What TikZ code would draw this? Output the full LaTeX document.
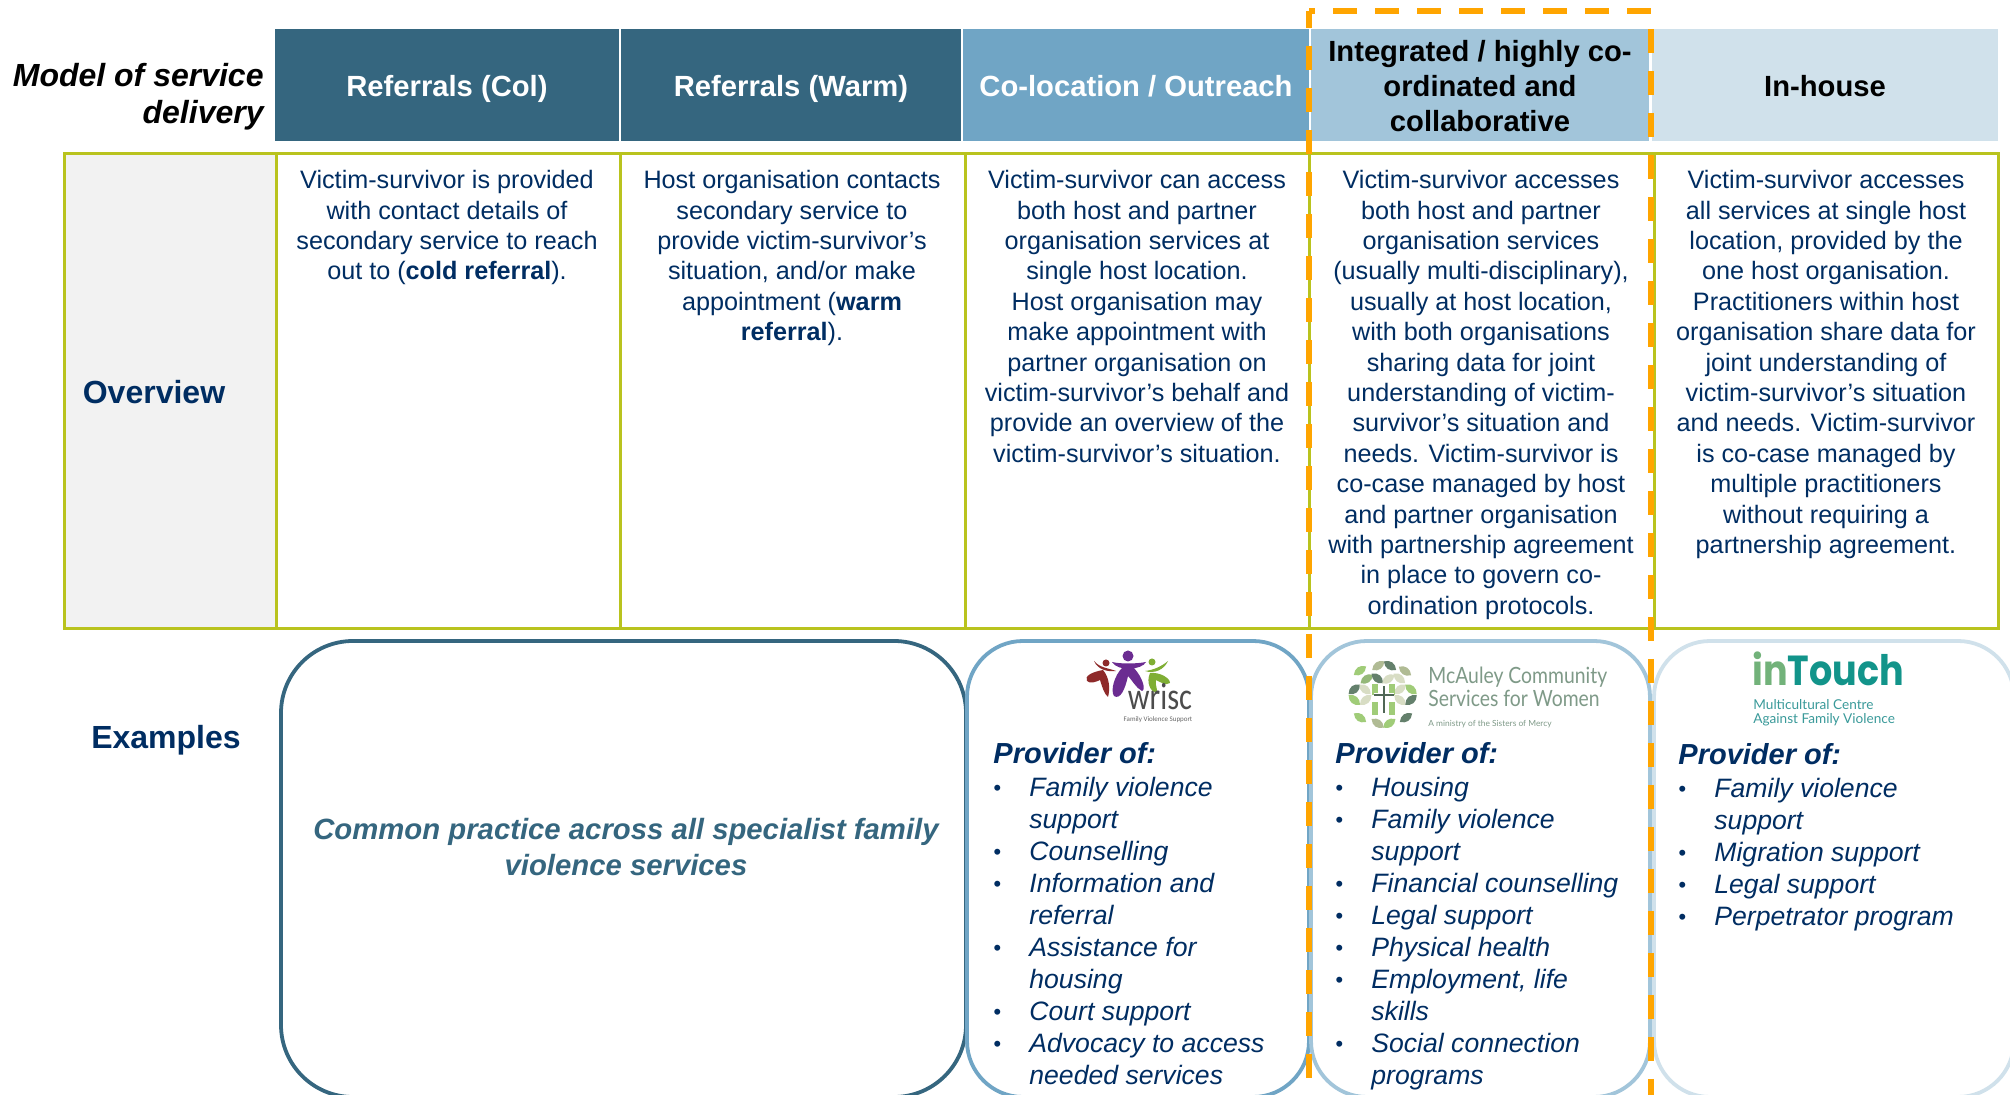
\documentclass[tikz,border=0pt]{standalone}
\usepackage{fontspec}
\setmainfont{Liberation Sans}
\newfontfamily\logofont{Carlito}
\newfontfamily\lato{Lato}
\newfontfamily\popp{Poppins}
\definecolor{navy}{HTML}{002D62}
\definecolor{cA}{HTML}{35667F}
\definecolor{cB}{HTML}{70A5C5}
\definecolor{cC}{HTML}{A2C5DA}
\definecolor{cD}{HTML}{D0E1EB}
\definecolor{olive}{HTML}{B9C31E}
\definecolor{panel}{HTML}{F2F2F2}
\definecolor{dashor}{HTML}{FFA500}
\definecolor{wred}{HTML}{8E2A2A}
\definecolor{wpur}{HTML}{6B2C91}
\definecolor{wgrn}{HTML}{7FAE34}
\definecolor{mctxt}{HTML}{7F9A88}
\definecolor{intg}{HTML}{72B27A}
\definecolor{intt}{HTML}{12948A}
\definecolor{inttx}{HTML}{3A9A9A}
\definecolor{lfpale}{HTML}{D8DDC4}
\definecolor{lfolive}{HTML}{B0BB94}
\definecolor{lfgreen}{HTML}{A0CC78}
\definecolor{lfmid}{HTML}{94B878}
\definecolor{lfdark}{HTML}{64806C}
\newcommand\blt{\makebox[18pt][l]{\raisebox{0.6pt}{\fontsize{11}{11}\selectfont\textbullet}}}
\newcommand\ind{\hspace*{18pt}}
\newcommand\leafat[5]{\fill[#5,shift={(#1,#2)},rotate=#3] (-#4,0) .. controls (-#4*0.4,-#4*0.7) and (#4*0.4,-#4*0.7) .. (#4,0) .. controls (#4*0.4,#4*0.7) and (-#4*0.4,#4*0.7) .. cycle;}
\tikzset{
  hdrw/.style={text=white,font=\fontsize{14.6}{17.4}\selectfont\bfseries,align=center,text height=11pt,text depth=0.5pt,yshift=-0.3pt},
  hdrk/.style={text=black,font=\fontsize{14.6}{17.4}\selectfont\bfseries,align=center,yshift=-0.4pt},
  bodytxt/.style={text=navy,font=\fontsize{12.6}{15.2}\selectfont,align=center,anchor=north,inner sep=0pt},
  listtxt/.style={text=navy,font=\fontsize{13.3}{16}\selectfont\itshape,align=left,anchor=north west,inner sep=0pt},
  provtxt/.style={text=navy,font=\fontsize{14.5}{16}\selectfont\bfseries\itshape,anchor=west,inner sep=0pt},
  sidelab/.style={text=navy,font=\fontsize{16}{18}\selectfont\bfseries,inner sep=0pt},
  tabline/.style={draw=olive,line width=1.5pt},
  exbox/.style={line width=1.9pt,rounded corners=28pt},
  dashline/.style={draw=dashor,line width=3pt},
}
\begin{document}
\begin{tikzpicture}[x=0.5pt,y=-0.5pt]
\useasboundingbox (0,0) rectangle (2010,1095);
\clip (0,0) rectangle (2010,1095);
% headers
\fill[cA] (275,29) rectangle node[hdrw] (hA) {Referrals (Col)} (619,141);
\fill[cA] (621,29) rectangle node[hdrw] (hB) {Referrals (Warm)} (961,141);
\fill[cB] (963,29) rectangle node[hdrw] (hC) {Co-location / Outreach} (1309,141);
\fill[cC] (1311,29) rectangle node[hdrk] (hD) {Integrated / highly co-\\ordinated and\\collaborative} (1649,141);
\fill[cD] (1652,29) rectangle node[hdrw,text=black] (hE) {In-house} (1998,141);
\node[anchor=east,align=right,inner sep=0pt,font=\fontsize{16}{18.5}\selectfont\bfseries\itshape] (model) at (264,97) {Model of service\\delivery};
% table
\fill[panel] (64,154) rectangle (276,629);
\draw[tabline] (64,154) rectangle (1998,629);
\foreach \x in {276,620,965,1309,1654} \draw[tabline] (\x,154) -- (\x,629);
\node[sidelab] (ov) at (154,392) {Overview};
\node[sidelab] (ex) at (166,740) {Examples};
% overview text
\node[bodytxt] (tA) at (447,170) {Victim-survivor is provided\\with contact details of\\secondary service to reach\\out to (\textbf{cold referral}).};
\node[bodytxt] (tB) at (792,170) {Host organisation contacts\\secondary service to\\provide victim-survivor’s\\situation, and/or make\\appointment (\textbf{warm}\\\textbf{referral}).};
\node[bodytxt] (tC) at (1137,170) {Victim-survivor can access\\both host and partner\\organisation services at\\single host location.\\Host organisation may\\make appointment with\\partner organisation on\\victim-survivor’s behalf and\\provide an overview of the\\victim-survivor’s situation.};
\node[bodytxt] (tD) at (1481,170) {Victim-survivor accesses\\both host and partner\\organisation services\\(usually multi-disciplinary),\\usually at host location,\\with both organisations\\sharing data for joint\\understanding of victim-\\survivor’s situation and\\needs. Victim-survivor is\\co-case managed by host\\and partner organisation\\with partnership agreement\\in place to govern co-\\ordination protocols.};
\node[bodytxt] (tE) at (1826,170) {Victim-survivor accesses\\all services at single host\\location, provided by the\\one host organisation.\\Practitioners within host\\organisation share data for\\joint understanding of\\victim-survivor’s situation\\and needs. Victim-survivor\\is co-case managed by\\multiple practitioners\\without requiring a\\partnership agreement.};
% example boxes
\draw[exbox,rounded corners=36pt,draw=cA,fill=white] (281,641) rectangle (966,1097);
\draw[exbox,draw=cB,fill=white] (967,641) rectangle (1309,1097);
\draw[exbox,draw=cC,fill=white] (1311,641) rectangle (1650,1097);
\draw[exbox,draw=cD,fill=white] (1654,641) rectangle (2014,1097);
\node[text=cA,align=center,inner sep=0pt,font=\fontsize{14.65}{18}\selectfont\bfseries\itshape] (common) at (626,847) {Common practice across all specialist family\\violence services};
% lists
\node[provtxt] (pA) at (993,753) {Provider of:};
\node[listtxt] (lA) at (993,777) {\blt Family violence\\\ind support\\\blt Counselling\\\blt Information and\\\ind referral\\\blt Assistance for\\\ind housing\\\blt Court support\\\blt Advocacy to access\\\ind needed services};
\node[provtxt] (pB) at (1335,753) {Provider of:};
\node[listtxt] (lB) at (1335,777) {\blt Housing\\\blt Family violence\\\ind support\\\blt Financial counselling\\\blt Legal support\\\blt Physical health\\\blt Employment, life\\\ind skills\\\blt Social connection\\\ind programs};
\node[provtxt] (pC) at (1678,754) {Provider of:};
\node[listtxt] (lC) at (1678,778) {\blt Family violence\\\ind support\\\blt Migration support\\\blt Legal support\\\blt Perpetrator program};
% wrisc logo
\fill[wpur] (1128,656) circle (5.5);
\fill[wpur] (1112,662) .. controls (1120,664) and (1136,664) .. (1146,662) .. controls (1142,670) and (1118,672) .. cycle;
\fill[wpur] (1122,668) .. controls (1115,675) and (1110,690) .. (1114,696) .. controls (1120,700) and (1125,690) .. (1128,676) .. controls (1132,680) and (1136,688) .. (1142,691) .. controls (1146,690) and (1143,678) .. (1134,668) -- cycle;
\fill[wred] (1106,663) circle (3.5);
\fill[wred] (1094,661) .. controls (1100,668) and (1108,668) .. (1116,671) .. controls (1108,672) and (1098,670) .. cycle;
\fill[wred] (1103,670) .. controls (1092,672) and (1084,676) .. (1087,681) .. controls (1090,684) and (1096,682) .. (1100,680) .. controls (1102,686) and (1104,694) .. (1108,697) .. controls (1110,690) and (1110,678) .. cycle;
\fill[wgrn] (1152,662) circle (3.5);
\fill[wgrn] (1145,671) .. controls (1154,670) and (1162,666) .. (1168,661) .. controls (1164,670) and (1154,674) .. cycle;
\fill[wgrn] (1150,673) .. controls (1160,672) and (1170,678) .. (1170,683) .. controls (1166,686) and (1160,682) .. (1156,680) .. controls (1155,686) and (1158,690) .. (1157,693) .. controls (1150,692) and (1146,682) .. cycle;
\node[text=black!70,inner sep=0pt,font=\logofont\fontsize{19}{19}\selectfont] (wr) at (1160,697) {\scalebox{0.8}[1]{wrisc}};
\node[text=black!60,inner sep=0pt,font=\logofont\fontsize{3.5}{4}\selectfont] (wr2) at (1158,720) {Family Violence Support};
% McAuley logo
\foreach \zx/\zy/\a/\c in {100/32/35/lfolive,135/32/-35/lfdark,45/47/35/lfgreen,180/48/-35/lfolive,65/72/35/lfmid,97/70/-40/lfdark,130/72/35/lfpale,163/70/-40/lfpale,28/103/40/lfdark,60/103/-40/lfpale,28/135/-40/lfgreen,62/135/40/lfpale,165/103/40/lfpale,198/103/-40/lfgreen,165/135/-40/lfpale,198/135/40/lfdark,45/188/-35/lfgreen,183/188/35/lfdark,98/205/-35/lfolive,133/205/35/lfgreen}
  {\pgfmathsetmacro\lx{1345+\zx/3}\pgfmathsetmacro\ly{655+\zy/3}
   \leafat{\lx}{\ly}{\a}{7.5}{\c}}
\foreach \bx/\by/\bh in {1372/684/11,1389/684/11,1372/702/13,1389/702/13} \fill[lfgreen] (\bx,\by) rectangle +(6,\bh);
\draw[white,line width=1.6pt] (1384,686) -- (1384,713) (1374,695) -- (1394,695);
\draw[lfdark!80!black,line width=0.7pt] (1384,686) -- (1384,713) (1374,695) -- (1394,695);
\node[text=mctxt,anchor=west,inner sep=0pt,font=\lato\fontsize{11.2}{12}\selectfont] (mc1) at (1428,677) {\scalebox{0.864}[1]{McAuley Community}};
\node[text=mctxt,anchor=west,inner sep=0pt,font=\lato\fontsize{11.2}{12}\selectfont] (mc2) at (1428,698) {\scalebox{0.864}[1]{Services for Women}};
\node[text=mctxt,anchor=west,inner sep=0pt,font=\lato\fontsize{4.2}{5}\selectfont] (mc3) at (1428,724) {A ministry of the Sisters of Mercy};
% inTouch logo
\node[anchor=base west,inner sep=0pt,font=\popp\bfseries\fontsize{21}{21}\selectfont] (it) at (1752,686) {\scalebox{0.87}[1]{\textcolor{intg}{in}\textcolor{intt}{Touch}}};
\node[text=inttx,anchor=west,inner sep=0pt,font=\lato\fontsize{6.8}{7}\selectfont] (it2) at (1753,704.5) {Multicultural Centre};
\node[text=inttx,anchor=west,inner sep=0pt,font=\lato\fontsize{6.8}{7}\selectfont] (it3) at (1753,719.5) {Against Family Violence};
% dashed highlight
\coordinate (dTL) at (1309,11);
\coordinate (dTR) at (1651,11);
\coordinate (dBL) at (1309,1096);
\coordinate (dBR) at (1651,1096);
\draw[dashline,dash pattern=on 12pt off 9pt,dash phase=9pt] (dTL) -- (dTR);
\draw[dashline,dash pattern=on 12pt off 9pt,dash phase=3.5pt] (dTL) -- (dBL);
\draw[dashline,dash pattern=on 12pt off 9pt,dash phase=12pt] (dTR) -- (dBR);
\end{tikzpicture}
\end{document}
